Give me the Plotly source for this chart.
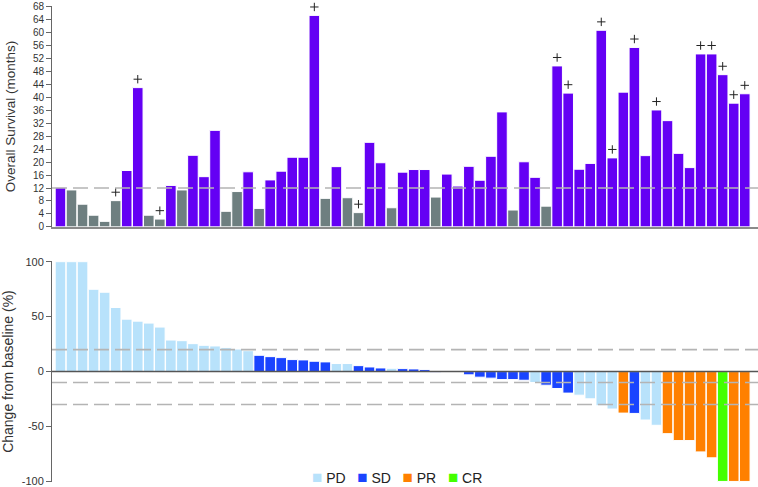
import plotly.graph_objects as go

# overall survival (months) per patient, left to right
os_months = [
    12.2, 11.4, 7.0, 3.6, 1.7, 8.1, 17.4, 43.0, 3.6, 2.4,
    12.8, 11.4, 22.1, 15.5, 29.8, 4.8, 10.9, 17.0, 5.7, 14.5,
    17.2, 21.5, 21.5, 65.3, 8.8, 18.6, 9.0, 4.4, 26.1, 19.8,
    5.9, 16.9, 17.7, 17.7, 9.2, 16.3, 12.6, 18.7, 14.4, 21.8,
    35.5, 5.2, 20.1, 15.3, 6.4, 49.7, 41.3, 17.8, 19.6, 60.7,
    21.3, 41.6, 55.4, 22.0, 36.1, 32.8, 22.7, 18.3, 53.4, 53.4,
    47.0, 38.2, 41.1,
]
# P = purple (>= 12 months), G = grey
os_group = list(
    "PGGGGGPPGGPGPPPGGPGP"
    "PPPPGPGGPPGPPPGPPPPP"
    "PGPPGPPPPPPPPPPPPPPP"
    "PPP"
)
# 1 = censored (alive at last follow-up, drawn with a "+")
censored = [
    0, 0, 0, 0, 0, 1, 0, 1, 0, 1,
    0, 0, 0, 0, 0, 0, 0, 0, 0, 0,
    0, 0, 0, 1, 0, 0, 0, 1, 0, 0,
    0, 0, 0, 0, 0, 0, 0, 0, 0, 0,
    0, 0, 0, 0, 0, 1, 1, 0, 0, 1,
    1, 0, 1, 0, 1, 0, 0, 0, 1, 1,
    1, 1, 1,
]

# best change from baseline (%) and response
change_pct = [
    100, 100, 100, 74.9, 72.2, 58.3, 47.7, 45.9, 44.1, 40.5,
    28.7, 28.1, 25.4, 23.9, 23.3, 21.8, 20.5, 19.0, 14.8, 13.6,
    12.7, 10.9, 10.6, 9.4, 8.8, 7.3, 7.3, 5.4, 4.2, 3.3,
    3.0, 2.7, 2.4, 1.8, -0.6, 0, 0, -3.0, -5.1, -6.0,
    -7.3, -7.3, -7.9, -10.0, -12.4, -15.4, -19.6, -21.5, -24.8, -31.1,
    -34.1, -37.8, -38.1, -44.1, -48.9, -56.5, -62.8, -62.8, -73.1, -78.5,
    -100, -100, -100,
]
response = (
    ["PD"] * 18 + ["SD"] * 7 + ["PD", "PD"] + ["SD"] * 3 + ["PD"]
    + ["SD"] * 6 + ["SD"] * 6 + ["PD", "SD", "SD", "SD"] + ["PD"] * 4
    + ["PR", "SD", "PD", "PD"] + ["PR"] * 5 + ["CR", "PR", "PR"]
)

resp_order = ["PD", "SD", "PR", "CR"]
resp_colors = {"PD": "#b8e2fb", "SD": "#1a44ff", "PR": "#ff8000", "CR": "#44ff00"}
os_colors = {"P": "#6400f4", "G": "#6e7f80"}

x = list(range(len(os_months)))

fig = go.Figure()

# top panel: overall survival
fig.add_trace(go.Bar(
    x=x, y=os_months,
    marker=dict(color=[os_colors[g] for g in os_group],
                line=dict(color="white", width=1)),
    xaxis="x", yaxis="y", showlegend=False,
))
cx = [i for i, c in zip(x, censored) if c]
cy = [os_months[i] + 2.6 for i in cx]
fig.add_trace(go.Scatter(
    x=cx, y=cy, mode="markers", cliponaxis=False,
    marker=dict(symbol="cross-thin", size=6, line=dict(color="#222", width=1)),
    xaxis="x", yaxis="y", showlegend=False,
))

# bottom panel: waterfall, one trace per response
for r in resp_order:
    idx = [i for i in x if response[i] == r]
    fig.add_trace(go.Bar(
        x=idx, y=[change_pct[i] for i in idx], name=r,
        marker=dict(color=resp_colors[r], line=dict(color="white", width=1)),
        xaxis="x2", yaxis="y2", showlegend=False,
    ))

# dashed reference lines (drawn over the bars)
dash = dict(color="#b4b4b4", width=1.6, dash="15px,6px")
fig.add_shape(type="line", xref="paper", yref="y", x0=0, x1=1, y0=12, y1=12,
              line=dash, layer="above")
for level in [20, -10, -30]:
    fig.add_shape(type="line", xref="paper", yref="y2", x0=0, x1=1,
                  y0=level, y1=level, line=dash, layer="above")
fig.add_shape(type="line", xref="paper", yref="y2", x0=0, x1=1, y0=0, y1=0,
              line=dict(color="#555", width=1.5), layer="above")

# legend built as a text line of coloured squares
legend_txt = "   ".join(
    f"<span style='color:{resp_colors[r]};font-size:17px'>■</span> {r}" for r in resp_order
)
fig.add_annotation(text=legend_txt, xref="paper", yref="paper", x=0.489, y=0.01,
                   xanchor="center", yanchor="middle", showarrow=False,
                   font=dict(size=14, color="#222"))

xr = [-0.77, 63.2]
fig.update_layout(
    width=758, height=487,
    margin=dict(l=52, r=0, t=6, b=5, autoexpand=False),
    plot_bgcolor="white", paper_bgcolor="white",
    font=dict(family="Liberation Sans, Arial, sans-serif", color="#333"),
    barmode="overlay", bargap=0.04,
    xaxis=dict(domain=[0, 1], range=xr, showticklabels=False, ticks="",
               showgrid=False, zeroline=False, showline=True,
               linecolor="#8a8a8a", linewidth=1.5, anchor="y"),
    yaxis=dict(domain=[0.536, 1], range=[0, 68.2], tickvals=list(range(0, 69, 4)),
               showgrid=False, zeroline=False, showline=True, linecolor="#666",
               linewidth=1, ticks="outside", ticklen=5, tickcolor="#666",
               tickfont=dict(size=10), anchor="x", ticklabeloverflow="allow",
               title=dict(text="Overall Survival (months)", font=dict(size=13.5),
                          standoff=14)),
    xaxis2=dict(domain=[0, 1], range=xr, showticklabels=False, ticks="",
                showgrid=False, zeroline=False, showline=False, anchor="y2"),
    yaxis2=dict(domain=[0, 0.464], range=[-100.5, 100.5],
                tickvals=[100, 50, 0, -50, -100],
                ticktext=["100", "50", "0", "-50", "-100"],
                showgrid=False, zeroline=False, showline=True, linecolor="#666",
                linewidth=1, ticks="outside", ticklen=5, tickcolor="#666",
                tickfont=dict(size=11), anchor="x2", ticklabeloverflow="allow",
                title=dict(text="Change from baseline (%)", font=dict(size=14),
                           standoff=11)),
)

fig.write_html("out.html", config={"displayModeBar": False},
               post_script="document.body.style.margin='0';")
